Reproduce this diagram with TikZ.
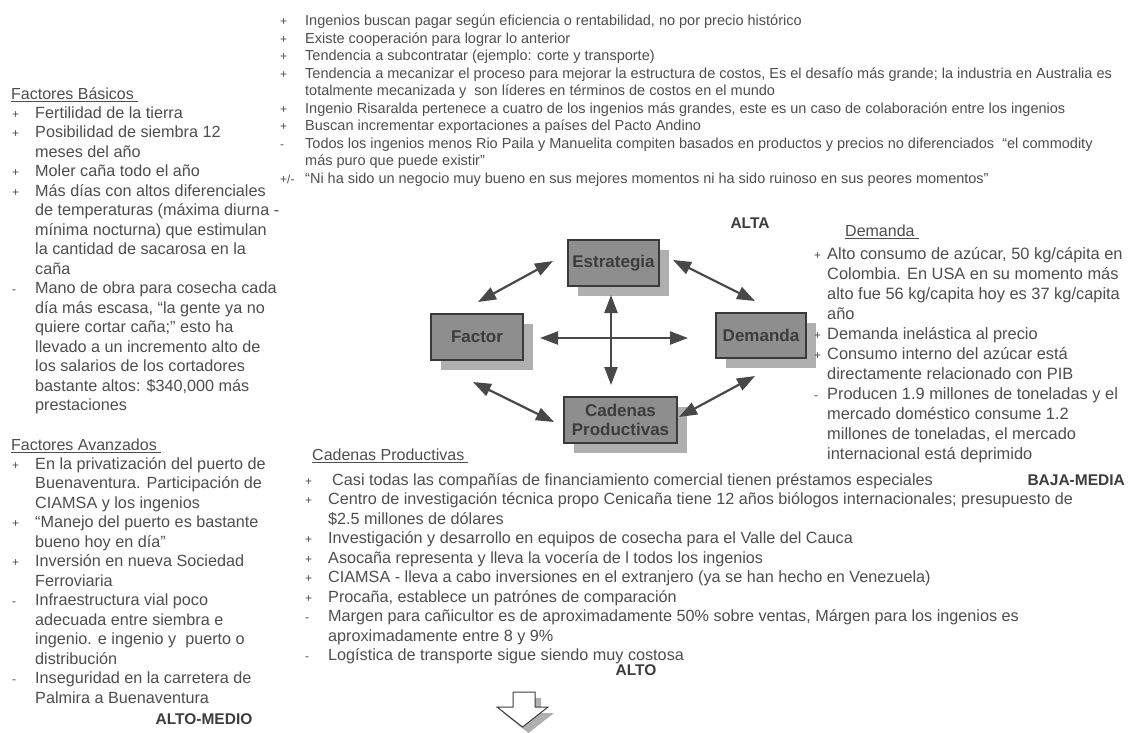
\documentclass[tikz,border=0pt]{standalone}
\usepackage{fontspec}
\setmainfont{Liberation Sans}
\usetikzlibrary{arrows.meta,shadows}
\definecolor{ink}{RGB}{78,78,78}
\definecolor{inkdark}{RGB}{60,60,60}
\definecolor{boxfill}{RGB}{142,142,142}
\definecolor{boxshade}{RGB}{175,175,175}
\definecolor{boxline}{RGB}{58,58,58}
\definecolor{arrowgray}{RGB}{72,72,72}

\begin{document}
\begin{tikzpicture}[x=1pt,y=-1pt,
  txt/.style={anchor=base west, inner sep=0pt, text=ink},
  bul/.style={anchor=base west, inner sep=0pt, text=ink},
  topf/.style={font=\fontsize{14.5}{17.5}\selectfont},
  leftf/.style={font=\fontsize{16.2}{19.5}\selectfont},
  demf/.style={font=\fontsize{16.4}{20}\selectfont},
  botf/.style={font=\fontsize{16.2}{19.5}\selectfont},
  smallbul/.style={font=\fontsize{12}{13}\selectfont},
  head/.style={anchor=base west, inner sep=0pt, text=ink, font=\fontsize{16}{19}\selectfont},
  level/.style={inner sep=0pt, text=inkdark, font=\bfseries\fontsize{15.5}{18}\selectfont},
  pbox/.style={draw=boxline, line width=1.3pt, fill=boxfill, text=inkdark,
    font=\bfseries\fontsize{17}{19.5}\selectfont, inner sep=0pt, align=center,
    drop shadow={shadow xshift=10pt, shadow yshift=-10pt, fill=boxshade, opacity=1}},
  link/.style={draw=arrowgray, line width=2.2pt,
    {Triangle[length=18pt,width=13pt]}-{Triangle[length=18pt,width=13pt]}},
  uline/.style={draw=ink, line width=0.8pt}
]
\path[use as bounding box, fill=white] (0,0) rectangle (1142,732);

% ---------- upper list ----------
\foreach \b/\t [count=\i from 0] in {
  +/{Ingenios buscan pagar según eficiencia o rentabilidad, no por precio histórico},
  +/{Existe cooperación para lograr lo anterior},
  +/{Tendencia a subcontratar (ejemplo: corte y transporte)},
  +/{Tendencia a mecanizar el proceso para mejorar la estructura de costos, Es el desafío más grande; la industria en Australia es},
  /{totalmente mecanizada y \ son líderes en términos de costos en el mundo},
  +/{Ingenio Risaralda pertenece a cuatro de los ingenios más grandes, este es un caso de colaboración entre los ingenios},
  +/{Buscan incrementar exportaciones a países del Pacto Andino},
  -/{Todos los ingenios menos Rio Paila y Manuelita compiten basados en productos y precios no diferenciados \ “el commodity},
  /{más puro que puede existir”},
  {+/-}/{“Ni ha sido un negocio muy bueno en sus mejores momentos ni ha sido ruinoso en sus peores momentos”}}{
  \node[bul,smallbul] (topb\i) at (280, 25.5+17.5*\i) {\b};
  \node[txt,topf] (topt\i) at (305, 25.5+17.5*\i) {\t};
}

% ---------- basic factors ----------
\node[head] (fbas) at (11,99) {Factores Básicos};
\draw[uline] ([yshift=-2.5pt]fbas.base west) -- ([yshift=-2.5pt,xshift=4pt]fbas.base east);
\foreach \b/\t [count=\i from 0] in {
  +/{Fertilidad de la tierra},
  +/{Posibilidad de siembra 12},
  /{meses del año},
  +/{Moler caña todo el año},
  +/{Más días con altos diferenciales},
  /{de temperaturas (máxima diurna -},
  /{mínima nocturna) que estimulan},
  /{la cantidad de sacarosa en la},
  /{caña},
  -/{Mano de obra para cosecha cada},
  /{día más escasa, “la gente ya no},
  /{quiere cortar caña;” esto ha},
  /{llevado a un incremento alto de},
  /{los salarios de los cortadores},
  /{bastante altos: \$340,000 más},
  /{prestaciones}}{
  \node[bul,smallbul] (basb\i) at (12, 118+19.5*\i) {\b};
  \node[txt,leftf] (bast\i) at (35, 118+19.5*\i) {\t};
}

% ---------- advanced factors ----------
\node[head] (fava) at (11,450) {Factores Avanzados};
\draw[uline] ([yshift=-2.5pt]fava.base west) -- ([yshift=-2.5pt,xshift=4pt]fava.base east);
\foreach \b/\t [count=\i from 0] in {
  +/{En la privatización del puerto de},
  /{Buenaventura. Participación de},
  /{CIAMSA y los ingenios},
  +/{“Manejo del puerto es bastante},
  /{bueno hoy en día”},
  +/{Inversión en nueva Sociedad},
  /{Ferroviaria},
  -/{Infraestructura vial poco},
  /{adecuada entre siembra e},
  /{ingenio. e ingenio y \ puerto o},
  /{distribución},
  -/{Inseguridad en la carretera de},
  /{Palmira a Buenaventura}}{
  \node[bul,smallbul] (avab\i) at (12, 469+19.5*\i) {\b};
  \node[txt,leftf] (avat\i) at (35, 469+19.5*\i) {\t};
}
\node[level, anchor=base] (lvfac) at (204,724) {ALTO-MEDIO};

% ---------- diamond of the four forces ----------
\node[level, anchor=base] (lvest) at (750,228) {ALTA};
\node[pbox, minimum width=91pt, minimum height=46pt] (estr) at (613.5,263) {Estrategia};
\node[pbox, minimum width=92pt, minimum height=46pt] (fact) at (477,337) {Factor};
\node[pbox, minimum width=90pt, minimum height=45pt] (dema) at (761,335.5) {Demanda};
\node[pbox, minimum width=113pt, minimum height=46pt] (cade) at (620.5,420) {Cadenas\\Productivas};

\coordinate (fe1) at (478,302); \coordinate (fe2) at (553,261);
\coordinate (ed1) at (673,260); \coordinate (ed2) at (755,301);
\coordinate (fc1) at (473,382); \coordinate (fc2) at (554,422);
\coordinate (cd1) at (679,417); \coordinate (cd2) at (755,376);
\coordinate (vt) at (611,295);  \coordinate (vb) at (611,385);
\coordinate (hl) at (540,338);  \coordinate (hr) at (688,338);
\draw[link] (fe1) -- (fe2);
\draw[link] (ed1) -- (ed2);
\draw[link] (fc1) -- (fc2);
\draw[link] (cd1) -- (cd2);
\draw[link] (vt) -- (vb);
\draw[link] (hl) -- (hr);

% ---------- demand ----------
\node[head] (hdem) at (845,236) {Demanda};
\draw[uline] ([yshift=-2.5pt]hdem.base west) -- ([yshift=-2.5pt,xshift=4pt]hdem.base east);
\foreach \b/\t [count=\i from 0] in {
  +/{Alto consumo de azúcar, 50 kg/cápita en},
  /{Colombia. En USA en su momento más},
  /{alto fue 56 kg/capita hoy es 37 kg/capita},
  /{año},
  +/{Demanda inelástica al precio},
  +/{Consumo interno del azúcar está},
  /{directamente relacionado con PIB},
  -/{Producen 1.9 millones de toneladas y el},
  /{mercado doméstico consume 1.2},
  /{millones de toneladas, el mercado},
  /{internacional está deprimido}}{
  \node[bul,smallbul] (demb\i) at (814, 259+20*\i) {\b};
  \node[txt,demf] (demt\i) at (827, 259+20*\i) {\t};
}
\node[level, anchor=base east] (lvdem) at (1125,485) {BAJA-MEDIA};

% ---------- productive chains ----------
\node[head] (hcad) at (312,460) {Cadenas Productivas};
\draw[uline] ([yshift=-2.5pt]hcad.base west) -- ([yshift=-2.5pt,xshift=4pt]hcad.base east);
\foreach \b/\t [count=\i from 0] in {
  +/{\hspace{4pt}Casi todas las compañías de financiamiento comercial tienen préstamos especiales},
  +/{Centro de investigación técnica propo Cenicaña tiene 12 años biólogos internacionales; presupuesto de},
  /{\$2.5 millones de dólares},
  +/{Investigación y desarrollo en equipos de cosecha para el Valle del Cauca},
  +/{Asocaña representa y lleva la vocería de l todos los ingenios},
  +/{CIAMSA - lleva a cabo inversiones en el extranjero (ya se han hecho en Venezuela)},
  +/{Procaña, establece un patrónes de comparación},
  -/{Margen para cañicultor es de aproximadamente 50\% sobre ventas, Márgen para los ingenios es},
  /{aproximadamente entre 8 y 9\%},
  -/{Logística de transporte sigue siendo muy costosa}}{
  \node[bul,smallbul] (cadb\i) at (305, 485+19.5*\i) {\b};
  \node[txt,botf] (cadt\i) at (328, 485+19.5*\i) {\t};
}
\node[level, anchor=base] (lvcad) at (636,675) {ALTO};

% ---------- hollow arrow pointing down ----------
\fill[boxshade] (519,698) -- (541,698) -- (541,713) -- (554,713) -- (528.5,733) -- (503,713) -- (519,713) -- cycle;
\filldraw[fill=white, draw=inkdark, line width=1pt]
  (513,692) -- (535,692) -- (535,707) -- (548,707) -- (522.5,727) -- (497,707) -- (513,707) -- cycle;
\end{tikzpicture}
\end{document}
